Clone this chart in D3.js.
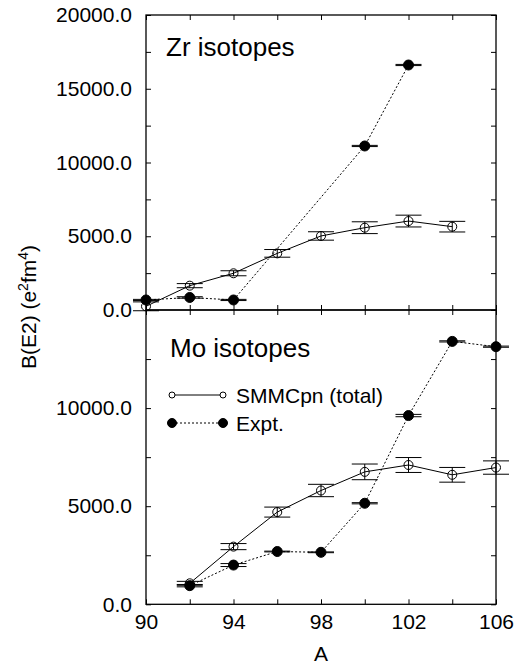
<!DOCTYPE html>
<html><head><meta charset="utf-8">
<script src="https://cdn.jsdelivr.net/npm/d3@7"></script>
<style>body{margin:0;background:#fff}svg{display:block}text{font-family:"Liberation Sans",Arial,Helvetica,sans-serif;fill:#000}</style>
</head><body>
<svg id="c" width="527" height="665"></svg>
<script>
// ---- data ----
const zrSmmcA = [90, 92, 94, 96, 98, 100, 102, 104];
const zrSmmc = [250, 1650, 2490, 3840, 5020, 5580, 6030, 5650];
const zrSmmcErr = [300, 140, 170, 260, 285, 400, 400, 360];
const zrExptA = [90, 92, 94, 100, 102];
const zrExpt = [680, 850, 680, 11120, 16610];
const zrExptErr = [40, 50, 40, 40, 40];

const moA = [92, 94, 96, 98, 100, 102, 104, 106];
const moSmmc = [1070, 2940, 4700, 5800, 6750, 7100, 6600, 6970];
const moSmmcErr = [100, 155, 255, 315, 400, 380, 375, 340];
const moExpt = [950, 2000, 2690, 2650, 5150, 9620, 13400, 13130];
const moExptErr = [60, 75, 20, 20, 30, 60, 30, 30];

const xTicks = [90, 92, 94, 96, 98, 100, 102, 104, 106];
const xLabels = [90, 94, 98, 102, 106];
const yTopTicks = [0, 2500, 5000, 7500, 10000, 12500, 15000, 17500, 20000];
const yTopLabels = [0, 5000, 10000, 15000, 20000];
const yBotTicks = [0, 2500, 5000, 7500, 10000, 12500, 15000];
const yBotLabels = [0, 5000, 10000];
const legendLabels = ["SMMCpn (total)", "Expt."];

// ---- layout ----
const svg = d3.select("#c");
const L = 146, R = 496, T = 15, M = 310, B = 604.3;
const x = d3.scaleLinear().domain([90, 106]).range([L, R]);
const yTop = d3.scaleLinear().domain([0, 20000]).range([M, T]);
const yBot = d3.scaleLinear().domain([0, 15000]).range([B, M]);
const FS = 21;

function panel(y, yTicks, yLabels, top, bottom, showX) {
  const fmt = v => yLabels.includes(v) ? d3.format(".1f")(v) : "";
  const gl = svg.append("g").attr("transform", `translate(${L},0)`)
    .call(d3.axisLeft(y).tickValues(yTicks).tickSizeInner(-5).tickSizeOuter(0).tickPadding(14).tickFormat(fmt));
  const gr = svg.append("g").attr("transform", `translate(${R},0)`)
    .call(d3.axisRight(y).tickValues(yTicks).tickSizeInner(-5).tickSizeOuter(0).tickFormat(""));
  const gt = svg.append("g").attr("transform", `translate(0,${top})`)
    .call(d3.axisTop(x).tickValues(xTicks).tickSizeInner(-5).tickSizeOuter(0).tickFormat(""));
  const gb = svg.append("g").attr("transform", `translate(0,${bottom})`)
    .call(d3.axisBottom(x).tickValues(xTicks).tickSizeInner(-5).tickSizeOuter(0).tickPadding(10)
      .tickFormat(v => showX && xLabels.includes(v) ? v : ""));
  [gl, gr, gt, gb].forEach(g => {
    g.select(".domain").remove();
    g.selectAll("line").attr("stroke", "#000").attr("stroke-width", 1);
    g.selectAll("text").attr("font-size", FS).attr("font-family", '"Liberation Sans",Arial,sans-serif').attr("fill", "#000");
  });
  svg.append("rect").attr("x", L).attr("y", top).attr("width", R - L).attr("height", bottom - top)
    .attr("fill", "none").attr("stroke", "#000").attr("stroke-width", 1.3);
}
panel(yTop, yTopTicks, yTopLabels, T, M, false);
panel(yBot, yBotTicks, yBotLabels, M, B, true);

const CAP = 13;
function series(A, vals, errs, y, filled, dotted) {
  const pts = A.map((a, i) => ({a, v: vals[i], e: errs[i]}));
  svg.append("path").datum(pts)
    .attr("d", d3.line().x(d => x(d.a)).y(d => y(d.v)))
    .attr("fill", "none").attr("stroke", "#000").attr("stroke-width", 1)
    .attr("stroke-dasharray", dotted ? "2,2" : null);
  const g = svg.append("g").attr("stroke", "#000").attr("stroke-width", 1);
  pts.forEach(d => {
    g.append("line").attr("x1", x(d.a)).attr("x2", x(d.a)).attr("y1", y(d.v - d.e)).attr("y2", y(d.v + d.e));
    [d.v - d.e, d.v + d.e].forEach(v => {
      g.append("line").attr("x1", x(d.a) - CAP).attr("x2", x(d.a) + CAP).attr("y1", y(v)).attr("y2", y(v));
    });
  });
  svg.append("g").selectAll("circle").data(pts).join("circle")
    .attr("cx", d => x(d.a)).attr("cy", d => y(d.v))
    .attr("r", filled ? 5 : 4.5)
    .attr("fill", filled ? "#000" : "none")
    .attr("stroke", "#000").attr("stroke-width", 1);
}
series(zrSmmcA, zrSmmc, zrSmmcErr, yTop, false, false);
series(zrExptA, zrExpt, zrExptErr, yTop, true, true);
series(moA, moSmmc, moSmmcErr, yBot, false, false);
series(moA, moExpt, moExptErr, yBot, true, true);

// titles
svg.append("text").attr("x", 166).attr("y", 56).attr("font-size", 26).text("Zr isotopes");
svg.append("text").attr("x", 170).attr("y", 357).attr("font-size", 26).text("Mo isotopes");

// legend
const lg = svg.append("g");
[[395, false], [423, true]].forEach(([ly, filled], i) => {
  lg.append("line").attr("x1", 172).attr("x2", 223).attr("y1", ly).attr("y2", ly)
    .attr("stroke", "#000").attr("stroke-width", 1).attr("stroke-dasharray", filled ? "2,2" : null);
  [172, 223].forEach(cx => lg.append("circle").attr("cx", cx).attr("cy", ly).attr("r", filled ? 4.5 : 3)
    .attr("fill", filled ? "#000" : "#fff").attr("stroke", "#000").attr("stroke-width", 1));
  lg.append("text").attr("x", 236).attr("y", ly + 8).attr("font-size", FS).text(legendLabels[i]);
});

// axis titles
svg.append("text").attr("x", 321).attr("y", 661).attr("text-anchor", "middle").attr("font-size", FS).text("A");
const yl = svg.append("text").attr("transform", "translate(36,307) rotate(-90)")
  .attr("text-anchor", "middle").attr("font-size", FS);
yl.append("tspan").text("B(E2) (e");
yl.append("tspan").attr("font-size", 14).attr("dy", -8).text("2");
yl.append("tspan").attr("dy", 8).text("fm");
yl.append("tspan").attr("font-size", 14).attr("dy", -8).text("4");
yl.append("tspan").attr("dy", 8).text(")");
</script>
</body></html>
